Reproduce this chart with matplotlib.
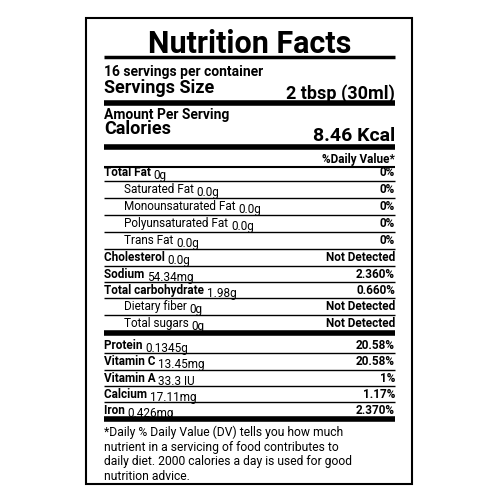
import matplotlib
matplotlib.use("Agg")
import matplotlib.pyplot as plt

nutrients = ["Total Fat", "Saturated Fat", "Monounsaturated Fat", "Polyunsaturated Fat", "Trans Fat",
             "Cholesterol", "Sodium", "Total carbohydrate", "Dietary fiber", "Total sugars"]
amounts = ["0g", "0.0g", "0.0g", "0.0g", "0.0g", "0.0g", "54.34mg", "1.98g", "0g", "0g"]
daily_values = ["0%", "0%", "0%", "0%", "0%", "Not Detected", "2.360%", "0.660%", "Not Detected", "Not Detected"]
indented = [False, True, True, True, True, False, False, False, True, True]

vitamins = ["Protein", "Vitamin C", "Vitamin A", "Calcium", "Iron"]
vit_amounts = ["0.1345g", "13.45mg", "33.3 IU", "17.11mg", "0.426mg"]
vit_dv = ["20.58%", "20.58%", "1%", "1.17%", "2.370%"]

footnote = ["*Daily % Daily Value (DV) tells you how much",
            "nutrient in a servicing of food contributes to",
            "daily diet. 2000 calories a day is used for good",
            "nutrition advice."]

fig = plt.figure(figsize=(5, 5), dpi=100)
ax = fig.add_axes([0, 0, 1, 1])
ax.set_xlim(0, 500); ax.set_ylim(500, 0); ax.axis("off")
F = "Roboto"
L, R = 104, 395

ax.add_patch(plt.Rectangle((86, 18), 326, 466, fill=False, lw=1.5, ec="black"))

def hline(y, lw):
    ax.plot([L, R], [y, y], color="black", lw=lw, solid_capstyle="butt")

def t(x, y, s, size, weight="bold", ha="left", va="center"):
    return ax.text(x, y, s, fontsize=size, fontweight=weight, ha=ha, va=va, family=F)

def row(x, y, name, amt, dv, w):
    txt = t(x, y + 4, name + " ", 8.5, weight=w, va="baseline")
    ax.annotate(amt, xycoords=txt, xy=(1, 0), va="baseline", fontsize=8.5, family=F)
    t(R, y + 4, dv, 8.5, ha="right", va="baseline")

t(250, 44, "Nutrition Facts", 22, ha="center")
hline(57, 2.5)
t(L, 72, "16 servings per container", 10)
t(L, 88, "Servings Size", 13)
t(R, 94, "2 tbsp (30ml)", 13, ha="right")
hline(103, 4)
t(L, 115, "Amount Per Serving", 10)
t(L, 129, "Calories", 13)
t(R, 136, "8.46 Kcal", 14, ha="right")
hline(147, 4)
t(R, 160, "%Daily Value*", 8.5, ha="right")
hline(167, 1.5)

ys = [172, 189, 206, 223, 240, 257, 274, 290, 306, 323]
for i, (n, a, d, ind) in enumerate(zip(nutrients, amounts, daily_values, indented)):
    row(L + 20 if ind else L, ys[i], n, a, d, "normal" if ind else "bold")
    if i < len(ys) - 1:
        hline((ys[i] + ys[i + 1]) / 2, 1)
hline(333, 4)

vy = [345, 361, 378, 394, 410]
for i, (n, a, d) in enumerate(zip(vitamins, vit_amounts, vit_dv)):
    row(L, vy[i], n, a, d, "bold")
    if i < len(vy) - 1:
        hline((vy[i] + vy[i + 1]) / 2, 1)
hline(419, 4)

for i, line in enumerate(footnote):
    t(L, 432 + 15 * i, line, 8.7, weight="normal")

fig.savefig("out.png", dpi=100)
